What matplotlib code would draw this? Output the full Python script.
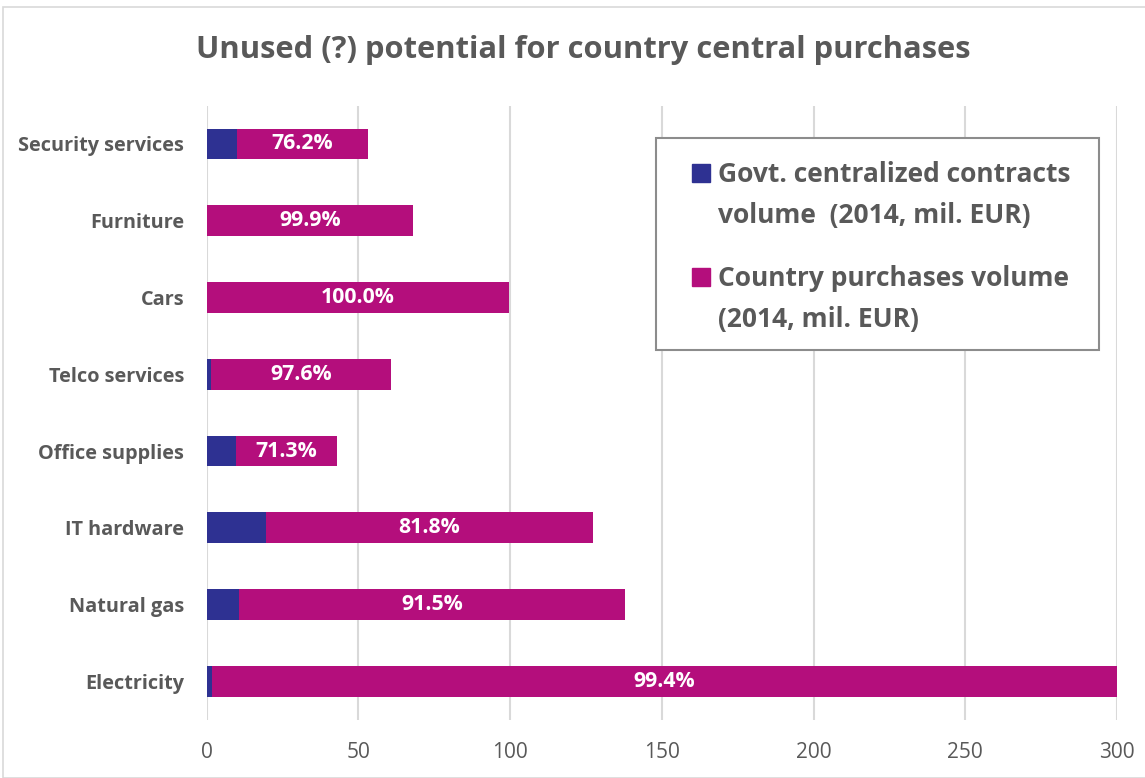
import matplotlib.pyplot as plt
from matplotlib.patches import Rectangle

plt.rcParams['font.family'] = ['Open Sans', 'DejaVu Sans']

# bottom to top, as on the chart
categories = ['Electricity', 'Natural gas', 'IT hardware', 'Office supplies',
              'Telco services', 'Cars', 'Furniture', 'Security services']
govt_volume = [1.8, 10.8, 19.6, 9.6, 1.4, 0.0, 0.1, 10.2]
country_volume = [298.2, 127.1, 107.6, 33.3, 59.5, 99.6, 67.9, 42.9]
share_labels = ['99.4%', '91.5%', '81.8%', '71.3%', '97.6%', '100.0%', '99.9%', '76.2%']
xticks = [0, 50, 100, 150, 200, 250, 300]

BLUE = '#2E3192'
PINK = '#B40E7C'
GREY = '#595959'
W, H = 1145, 778


def fx(x):
    return x / W


def fy(y):
    return 1 - y / H


fig = plt.figure(figsize=(W / 100, H / 100), dpi=100)
fig.patches.append(Rectangle((fx(3), 0), 1, fy(7), transform=fig.transFigure,
                             fill=False, edgecolor='#d9d9d9', linewidth=1.2))

ax = fig.add_axes([fx(206.5), fy(719.7), fx(1117 - 206.5), (719.7 - 105.6) / H])
pos = range(len(categories))
ax.barh(pos, govt_volume, height=0.4, color=BLUE, zorder=3)
ax.barh(pos, country_volume, left=govt_volume, height=0.4, color=PINK, zorder=3)

for i, lab in enumerate(share_labels):
    ax.text(govt_volume[i] + country_volume[i] / 2, i, lab, ha='center', va='center',
            color='white', fontsize=15.3, fontweight='bold', zorder=4)

ax.set_xlim(0, 300)
ax.set_ylim(-0.5, len(categories) - 0.5)
ax.set_xticks(xticks)
ax.set_yticks(list(pos))
ax.set_yticklabels(categories, fontsize=14.3, fontweight='bold', color=GREY)
ax.tick_params(axis='x', length=0, pad=16, labelsize=15, labelcolor=GREY)
ax.tick_params(axis='y', length=0, pad=16)
ax.grid(axis='x', color='#d9d9d9', linewidth=1.5, zorder=0)
for s in ax.spines.values():
    s.set_visible(False)

fig.text(fx(583.5), fy(50), 'Unused (?) potential for country central purchases',
         ha='center', va='center', fontsize=22.2, fontweight='bold', color=GREY)

# legend drawn by hand so the swatch sits on the first line
fig.patches.append(Rectangle((fx(656), fy(350)), fx(1099 - 656), (350 - 138) / H,
                             transform=fig.transFigure, fill=True, facecolor='white',
                             edgecolor='#8c8c8c', linewidth=1.5, zorder=5))
legend_items = [(BLUE, 'Govt. centralized contracts\nvolume  (2014, mil. EUR)', 182.7),
                (PINK, 'Country purchases volume\n(2014, mil. EUR)', 286.7)]
for col, txt, base in legend_items:
    fig.patches.append(Rectangle((fx(692), fy(base - 1)), fx(18), 17.5 / H,
                                 transform=fig.transFigure, color=col, zorder=6))
    # baseline alignment uses the last line of a multi-line text
    fig.text(fx(718), fy(base + 40), txt, ha='left', va='baseline', fontsize=19,
             fontweight='bold', color=GREY, linespacing=1.67, zorder=6)

fig.savefig('out.png', dpi=100)
